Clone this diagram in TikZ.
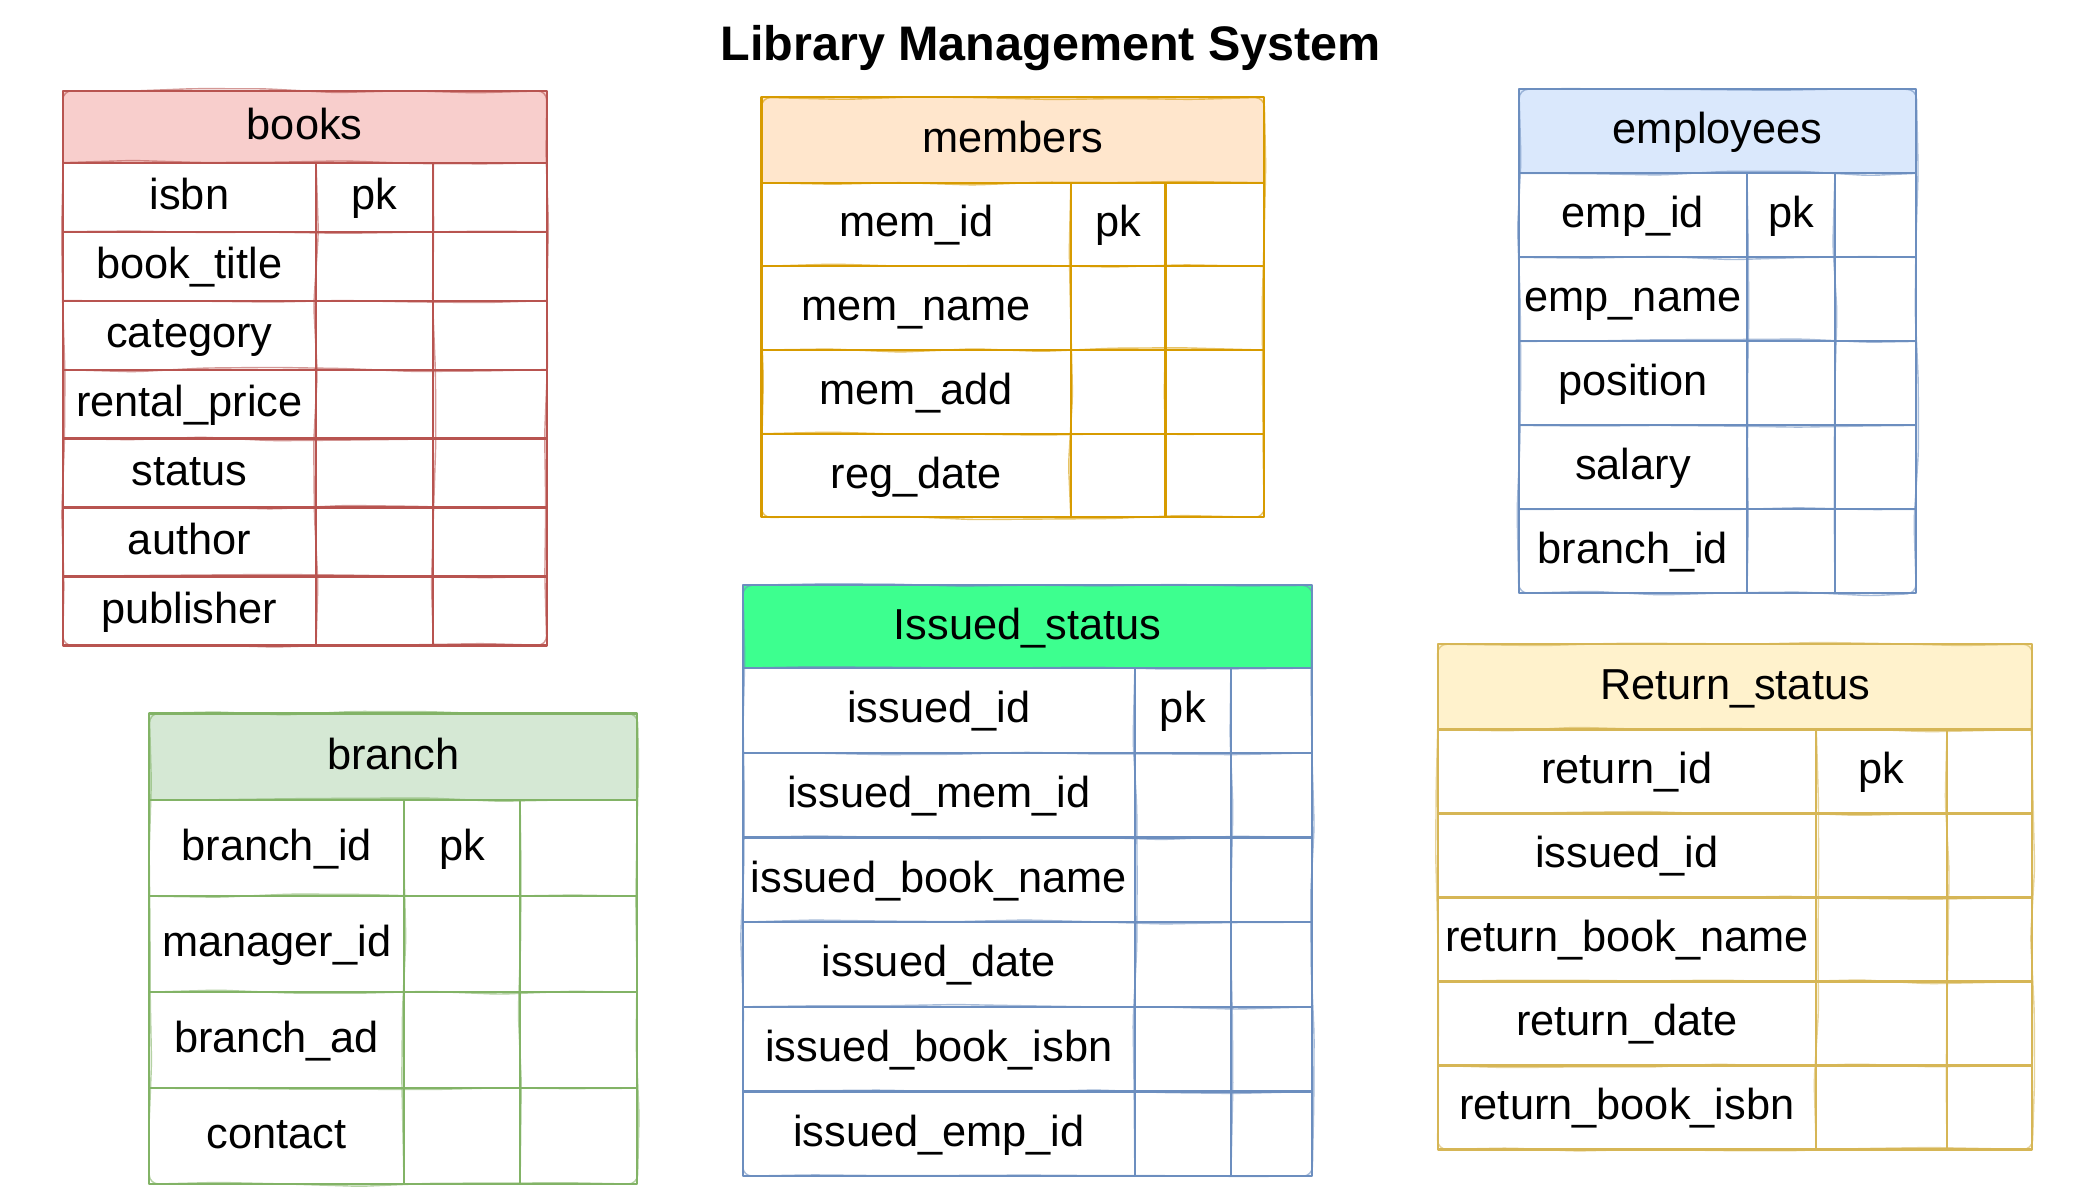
\documentclass[tikz,border=0pt]{standalone}
\usepackage{fontspec}
\setmainfont{Liberation Sans}
\usetikzlibrary{decorations.pathmorphing}
\definecolor{booksred}{HTML}{B85450}
\definecolor{booksfill}{HTML}{F8CECC}
\definecolor{memorange}{HTML}{D79B00}
\definecolor{memfill}{HTML}{FFE6CC}
\definecolor{empblue}{HTML}{6C8EBF}
\definecolor{empfill}{HTML}{DAE8FC}
\definecolor{branchgreen}{HTML}{82B366}
\definecolor{branchfill}{HTML}{D5E8D4}
\definecolor{issuedfill}{HTML}{3DFF8F}
\definecolor{retyellow}{HTML}{D6B656}
\definecolor{retfill}{HTML}{FFF2CC}
\pgfmathsetseed{7}
\tikzset{
  field/.style={font=\fontsize{18.5}{22}\selectfont, inner sep=0pt, text height=0.72em, text depth=0pt, yshift=-0.17em},
  head/.style={field},
  grid/.style={line width=0.9pt, line join=round,
    postaction={draw, line width=0.6pt, opacity=0.6, decorate,
      decoration={random steps, segment length=30pt, amplitude=1pt}, rounded corners=4pt}}
}
\begin{document}
\begin{tikzpicture}[x=0.02cm, y=-0.02cm]
  \useasboundingbox (0,0) rectangle (1556,900);
  \node[font=\bfseries\fontsize{20.7}{24}\selectfont] (title) at (788,36) {Library Management System};

  % books
  \fill[booksfill] (47,68) rectangle (410,122);
  \node[head] (books) at (228.5,95) {books};
  \foreach \f [count=\i] in {isbn,book\_title,category,rental\_price,status,author,publisher}
    \node[field] (books-\i) at (142,{122+(\i-0.5)*51.71}) {\f};
  \node[field] (books-pk) at (281,147.9) {pk};
  \draw[grid, booksred] (47,68) rectangle (410,484) (47,122) -- (410,122)
    (237,122) -- (237,484) (325,122) -- (325,484);
  \foreach \i in {1,...,6}
    \draw[grid, booksred] (47,{122+\i*51.71}) -- (410,{122+\i*51.71});

  % members
  \fill[memfill] (571,73) rectangle (948,137);
  \node[head] (members) at (759.5,105) {members};
  \foreach \f [count=\i] in {mem\_id,mem\_name,mem\_add,reg\_date}
    \node[field] (members-\i) at (687,{137+(\i-0.5)*62.75}) {\f};
  \node[field] (members-pk) at (838.5,168.4) {pk};
  \draw[grid, memorange] (571,73) rectangle (948,388) (571,137) -- (948,137)
    (803,137) -- (803,388) (874,137) -- (874,388);
  \foreach \i in {1,...,3}
    \draw[grid, memorange] (571,{137+\i*62.75}) -- (948,{137+\i*62.75});

  % employees
  \fill[empfill] (1139,67) rectangle (1437,130);
  \node[head] (employees) at (1288,98.5) {employees};
  \foreach \f [count=\i] in {emp\_id,emp\_name,position,salary,branch\_id}
    \node[field] (employees-\i) at (1224.5,{130+(\i-0.5)*63}) {\f};
  \node[field] (employees-pk) at (1343,161.5) {pk};
  \draw[grid, empblue] (1139,67) rectangle (1437,445) (1139,130) -- (1437,130)
    (1310,130) -- (1310,445) (1376,130) -- (1376,445);
  \foreach \i in {1,...,4}
    \draw[grid, empblue] (1139,{130+\i*63}) -- (1437,{130+\i*63});

  % branch
  \fill[branchfill] (112,535) rectangle (478,600);
  \node[head] (branch) at (295,567.5) {branch};
  \foreach \f [count=\i] in {branch\_id,manager\_id,branch\_ad,contact}
    \node[field] (branch-\i) at (207.5,{600+(\i-0.5)*72}) {\f};
  \node[field] (branch-pk) at (346.5,636) {pk};
  \draw[grid, branchgreen] (112,535) rectangle (478,888) (112,600) -- (478,600)
    (303,600) -- (303,888) (390,600) -- (390,888);
  \foreach \i in {1,...,3}
    \draw[grid, branchgreen] (112,{600+\i*72}) -- (478,{600+\i*72});

  % Issued_status
  \fill[issuedfill] (557,439) rectangle (984,501);
  \node[head] (issued) at (770.5,470) {Issued\_status};
  \foreach \f [count=\i] in {issued\_id,issued\_mem\_id,issued\_book\_name,issued\_date,issued\_book\_isbn,issued\_emp\_id}
    \node[field] (issued-\i) at (704,{501+(\i-0.5)*63.5}) {\f};
  \node[field] (issued-pk) at (887,532.75) {pk};
  \draw[grid, empblue] (557,439) rectangle (984,882) (557,501) -- (984,501)
    (851,501) -- (851,882) (923,501) -- (923,882);
  \foreach \i in {1,...,5}
    \draw[grid, empblue] (557,{501+\i*63.5}) -- (984,{501+\i*63.5});

  % Return_status
  \fill[retfill] (1078,483) rectangle (1524,547);
  \node[head] (return) at (1301,515) {Return\_status};
  \foreach \f [count=\i] in {return\_id,issued\_id,return\_book\_name,return\_date,return\_book\_isbn}
    \node[field] (return-\i) at (1220,{547+(\i-0.5)*63}) {\f};
  \node[field] (return-pk) at (1411,578.5) {pk};
  \draw[grid, retyellow] (1078,483) rectangle (1524,862) (1078,547) -- (1524,547)
    (1362,547) -- (1362,862) (1460,547) -- (1460,862);
  \foreach \i in {1,...,4}
    \draw[grid, retyellow] (1078,{547+\i*63}) -- (1524,{547+\i*63});
\end{tikzpicture}
\end{document}
